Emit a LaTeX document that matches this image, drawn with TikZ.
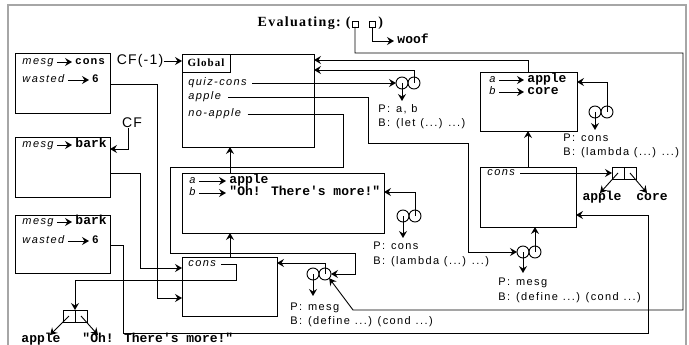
\documentclass[tikz,border=0pt]{standalone}
\usepackage{fontspec}
\setmainfont{Liberation Sans}
\newfontfamily\monof{Liberation Mono}
\newfontfamily\seriff{Liberation Serif}
\usetikzlibrary{arrows.meta,calc}
\ifdefined\newXeTeXintercharclass \newXeTeXintercharclass\lsc \else \chardef\lsc=10 \fi
\count255=33
\loop \XeTeXcharclass\count255=\lsc \ifnum\count255<126 \advance\count255 by 1 \repeat
\newcommand\lsset[2]{\XeTeXinterchartokenstate=1 \XeTeXinterchartoks\lsc\lsc={\kern#1}\spaceskip=#2\relax}
\begin{document}
\begin{tikzpicture}[x=1pt,y=-1pt,line width=0.9pt,
 frame/.style={draw,inner sep=0pt,outer sep=0pt,anchor=north west},
 circ/.style={draw,circle,minimum size=12pt,inner sep=0pt,outer sep=0pt},
 cell/.style={draw,minimum size=12pt,inner sep=0pt,outer sep=0pt},
 sq/.style={draw,minimum size=6pt,inner sep=0pt,outer sep=0pt,line width=0.7pt},
 var/.style={font=\fontsize{11}{13}\selectfont\itshape\lsset{1.4pt}{4.8pt},inner sep=0pt,anchor=west,text height=7pt,text depth=2pt},
 val/.style={font=\monof\fontsize{13}{15}\selectfont\bfseries,inner sep=0pt,anchor=west,text height=7pt,text depth=2pt},
 sval/.style={font=\fontsize{11}{13}\selectfont\bfseries\lsset{1.2pt}{4.8pt},inner sep=0pt,anchor=west,text height=7pt,text depth=2pt},
 info/.style={font=\fontsize{11}{13}\selectfont\lsset{1.4pt}{4.8pt},inner sep=0pt,anchor=west,text height=7pt,text depth=2pt},
 big/.style={font=\fontsize{14}{16}\selectfont\lsset{1.2pt}{4.5pt},inner sep=0pt},
 ttl/.style={font=\seriff\fontsize{14}{16}\selectfont\bfseries\lsset{1.3pt}{4pt},inner sep=0pt},
 ar/.style={-{Stealth[length=7pt,width=8pt,inset=2.5pt]}},
 inar/.style={ar,shorten <=3pt,shorten >=3pt},
]
\useasboundingbox (0,0) rectangle (689,345);
\draw[gray!70,line width=1.5pt] (8,350) -- (8,5) -- (686,5) -- (686,350);

% frames
\node[frame,minimum width=95pt,minimum height=60pt] (E1) at (15,53) {};
\node[frame,minimum width=95pt,minimum height=60pt] (E2) at (15,137) {};
\node[frame,minimum width=95pt,minimum height=58pt] (E3) at (15,215) {};
\node[frame,minimum width=132pt,minimum height=93pt] (G) at (182,54) {};
\node[frame,minimum width=48pt,minimum height=18pt,font=\seriff\fontsize{11}{13}\selectfont\bfseries\lsset{1pt}{3pt}] (GL) at (182,54) {Global};
\node[frame,minimum width=202pt,minimum height=60pt] (FA) at (182,173) {};
\node[frame,minimum width=95pt,minimum height=59pt] (FC) at (182,257) {};
\node[frame,minimum width=97pt,minimum height=59pt] (FB) at (480,72) {};
\node[frame,minimum width=96pt,minimum height=60pt] (FD) at (480,167) {};

% frame E1
\node[var] (m1) at (22,62) {mesg};
\node[sval] (c1) at (75,62) {cons};
\draw[inar] (m1.east) -- (c1.west);
\node[var] (w1) at (22,80) {wasted};
\node[sval] (s6a) at (92,80) {6};
\draw[inar] (w1.east) -- (s6a.west);
% frame E2
\node[var] (m2) at (22,145) {mesg};
\node[val] (b2) at (75,145) {bark};
\draw[inar] (m2.east) -- (b2.west);
% frame E3
\node[var] (m3) at (22,222) {mesg};
\node[val] (b3) at (75,222) {bark};
\draw[inar] (m3.east) -- (b3.west);
\node[var] (w3) at (22,241) {wasted};
\node[sval] (s6b) at (92,241) {6};
\draw[inar] (w3.east) -- (s6b.west);
% Global
\node[var] (qc) at (188,83) {quiz-cons};
\node[var] (ap) at (188,97) {apple};
\node[var] (na) at (188,114) {no-apple};
% FA
\node[var] (aA) at (189,181) {a};
\node[val] (vA1) at (229,181) {apple};
\draw[inar] (aA.east) -- (vA1.west);
\node[var] (bA) at (189,193) {b};
\node[val] (vA2) at (229,193) {"Oh! There\textquotesingle s more!"};
\draw[inar] (bA.east) -- (vA2.west);
% FB
\node[var] (aB) at (489,80) {a};
\node[val] (vB1) at (527,80) {apple};
\draw[inar] (aB.east) -- (vB1.west);
\node[var] (bB) at (489,92) {b};
\node[val] (vB2) at (527,92) {core};
\draw[inar] (bB.east) -- (vB2.west);
% FD, FC
\node[var] (cd) at (487,173) {cons};
\node[var] (cc) at (188,264) {cons};

% CF labels
\node[big] (cfm) at (140,61) {CF(-1)};
\draw[ar] (cfm.east) -- (cfm.east -| G.west);
\node[big] (cf) at (132,123) {CF};
\draw[ar] ([xshift=-4pt]cf.south) |- (E2.east |- 0,149);

% evaluating
\node[ttl,anchor=base east] (ev) at (351,27) {Evaluating: (};
\node[sq] (s1) at (355,24) {};
\node[sq] (s2) at (372,24) {};
\node[ttl,anchor=base west] (evc) at (378,27) {)};
\node[val] (woof) at (397,41) {woof};

% procedure objects
\node[circ] (p1l) at (402,83) {};
\node[circ] (p1r) at (414,83) {};
\node[circ] (p2l) at (595,112) {};
\node[circ] (p2r) at (607,112) {};
\node[circ] (p3l) at (523,252) {};
\node[circ] (p3r) at (535,252) {};
\node[circ] (p4l) at (403,216) {};
\node[circ] (p4r) at (415,216) {};
\node[circ] (p5l) at (313,274) {};
\node[circ] (p5r) at (325,274) {};

\node[info] (P1) at (378,110) {P: a, b};
\node[info] (B1) at (378,124) {B: (let (...) ...)};
\node[info] (P2) at (563,139) {P: cons};
\node[info] (B2) at (563,153) {B: (lambda (...) ...)};
\node[info] (P3) at (498,283) {P: mesg};
\node[info] (B3) at (498,298) {B: (define ...) (cond ...)};
\node[info] (P4) at (373,247) {P: cons};
\node[info] (B4) at (373,262) {B: (lambda (...) ...)};
\node[info] (P5) at (290,308) {P: mesg};
\node[info] (B5) at (290,322) {B: (define ...) (cond ...)};

% cons cells
\node[cell] (cr1) at (618,173) {};
\node[cell] (cr2) at (630,173) {};
\node[val,anchor=center] (apR) at (602,198) {apple};
\node[val,anchor=center] (coR) at (652,198) {core};
\node[cell] (cl1) at (69,316) {};
\node[cell] (cl2) at (81,316) {};
\node[val,anchor=center] (apL) at (41,340) {apple};
\node[val,anchor=west] (ohL) at (82,340) {"Oh! There\textquotesingle s more!"};

% connectors
\draw[ar] (E1.east |- 0,84) -| (157,298) -- (FC.west |- 0,298);
\draw[ar] (E2.east |- 0,173) -| (140,268) -- (FC.west |- 0,268);
\draw[ar] (E3.east |- 0,245) -| (123,333) -| (648,215) -- (FD.east |- 0,215);

\draw[ar] ($(qc.east)+(5,0)$) -- (p1l.west);
\draw[ar] ($(ap.east)+(7,0)$) -| (368,143) -| (468,252) -- (p3l.west);
\draw[ar] ($(na.east)+(6,0)$) -| (343,167) -| (170,253) -| (355,274) -- (p5r.east);

\draw[ar] (p1r.center) |- (G.east |- 0,70);
\draw[ar] (p1l.center) -- (402,101);
\draw[ar] (FB.north) |- (G.east |- 0,60);
\draw[ar] (p2r.center) |- (FB.east |- 0,82);
\draw[ar] (p2l.center) -- (595,130);
\draw[ar] (FD.north) -- (FD.north |- FB.south);
\draw[ar] (p3r.center) -- (p3r.center |- FD.south);
\draw[ar] (p3l.center) -- (523,273);
\draw[ar] ($(cd.east)+(5,0)$) -- (cr1.west);
\draw[ar] (cr1.center) -- ($(apR.north)+(-2,0)$);
\draw[ar] (cr2.center) -- ($(coR.north)+(-5,0)$);

\draw[ar] (FA.north -| 230,0) -- (G.south -| 230,0);
\draw[ar] (p4r.center) |- (FA.east |- 0,192);
\draw[ar] (p4l.center) -- (403,238);
\draw[ar] (FC.north -| 230,0) -- (FA.south -| 230,0);
\draw[ar] ($(cc.east)+(5,0)$) -| (236,280) -| (cl1.north east);
\draw[ar] (cl1.center) -- ($(apL.north)+(9,0)$);
\draw[ar] (cl2.center) -- ($(ohL.north west)+(16,0)$);
\draw[ar] (p5r.center) |- (FC.east |- 0,263);
\draw[ar] (p5l.center) -- (313,296);

\draw[ar] (s1.south) |- (683,53) |- (353,310) -- (p5r.-45);
\draw[ar] (s2.south) |- ($(woof.west)+(-3,0)$);
\end{tikzpicture}
\end{document}
